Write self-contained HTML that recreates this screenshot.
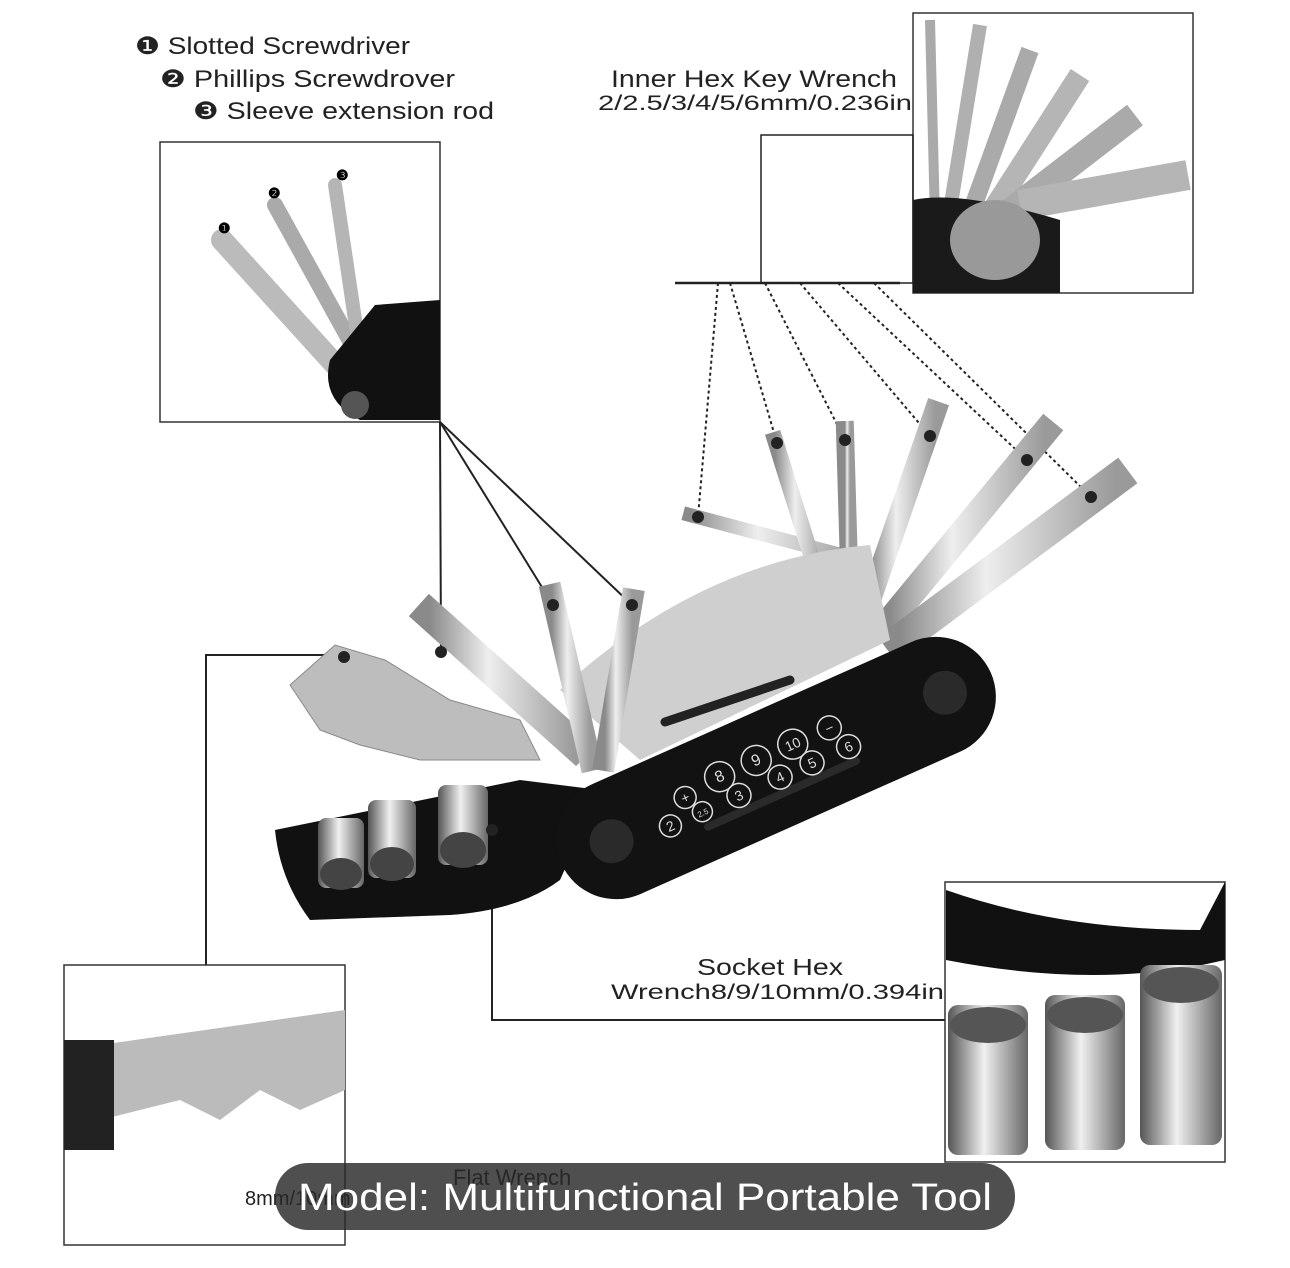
<!DOCTYPE html>
<html><head><meta charset="utf-8"><style>
html,body{margin:0;padding:0;background:#fff;}
svg{display:block}
text{font-family:"Liberation Sans",sans-serif;}
</style></head><body>
<svg width="1290" height="1268" viewBox="0 0 1290 1268" xmlns="http://www.w3.org/2000/svg">
<defs>
<linearGradient id="sil" x1="0" y1="0" x2="1" y2="0">
<stop offset="0" stop-color="#8a8a8a"/><stop offset=".4" stop-color="#eeeeee"/><stop offset="1" stop-color="#9a9a9a"/></linearGradient>
<linearGradient id="sock" x1="0" y1="0" x2="1" y2="0">
<stop offset="0" stop-color="#555"/><stop offset=".45" stop-color="#f0f0f0"/><stop offset="1" stop-color="#666"/></linearGradient>
</defs>
<rect width="1290" height="1268" fill="#fff"/>

<text x="135" y="54" font-size="24" fill="#222" textLength="275" lengthAdjust="spacingAndGlyphs">❶ Slotted Screwdriver</text>
<text x="160" y="87" font-size="24" fill="#222" textLength="295" lengthAdjust="spacingAndGlyphs">❷ Phillips  Screwdrover</text>
<text x="193" y="119" font-size="24" fill="#222" textLength="301" lengthAdjust="spacingAndGlyphs">❸ Sleeve  extension rod</text>
<text x="611" y="87" font-size="24" fill="#222" textLength="286" lengthAdjust="spacingAndGlyphs">Inner Hex Key Wrench</text>
<text x="598" y="110" font-size="21" fill="#222" textLength="314" lengthAdjust="spacingAndGlyphs">2/2.5/3/4/5/6mm/0.236in</text>

<rect x="160" y="142" width="280" height="280" fill="#fff" stroke="#333" stroke-width="1.5"/>
<g stroke-linecap="round">
<line x1="222" y1="240" x2="340" y2="370" stroke="#bbb" stroke-width="22"/>
<line x1="275" y1="205" x2="355" y2="350" stroke="#aaa" stroke-width="16"/>
<line x1="335" y1="185" x2="358" y2="340" stroke="#b5b5b5" stroke-width="14"/>
</g>
<path d="M330 360 L375 305 L440 300 L440 420 L360 420 Q320 400 330 360Z" fill="#111"/>
<circle cx="355" cy="405" r="14" fill="#555"/>
<text x="218" y="233" font-size="14" font-weight="bold">❶</text>
<text x="268" y="198" font-size="14" font-weight="bold">❷</text>
<text x="336" y="180" font-size="14" font-weight="bold">❸</text>

<rect x="913" y="13" width="280" height="280" fill="#fff" stroke="#333" stroke-width="1.5"/>
<g stroke-linecap="butt">
<line x1="930" y1="20" x2="935" y2="220" stroke="#aaa" stroke-width="10"/>
<line x1="980" y1="25" x2="950" y2="210" stroke="#b0b0b0" stroke-width="14"/>
<line x1="1030" y1="50" x2="970" y2="215" stroke="#aaa" stroke-width="18"/>
<line x1="1080" y1="75" x2="990" y2="215" stroke="#b5b5b5" stroke-width="22"/>
<line x1="1135" y1="115" x2="1005" y2="215" stroke="#aaa" stroke-width="26"/>
<line x1="1188" y1="175" x2="1020" y2="205" stroke="#b5b5b5" stroke-width="30"/>
</g>
<path d="M913 200 Q960 190 1060 220 L1060 293 L913 293Z" fill="#1a1a1a"/>
<ellipse cx="995" cy="240" rx="45" ry="40" fill="#999"/>
<rect x="761" y="135" width="152" height="148" fill="none" stroke="#222" stroke-width="1.5"/>
<line x1="675" y1="283" x2="900" y2="283" stroke="#222" stroke-width="2.5"/>

<g stroke="#222" stroke-width="2" stroke-dasharray="3,3" fill="none">
<line x1="718" y1="283" x2="698" y2="517"/>
<line x1="730" y1="283" x2="777" y2="443"/>
<line x1="765" y1="283" x2="845" y2="440"/>
<line x1="800" y1="283" x2="930" y2="436"/>
<line x1="838" y1="283" x2="1027" y2="460"/>
<line x1="874" y1="283" x2="1091" y2="497"/>
</g>

<g stroke="#222" stroke-width="2" fill="none">
<line x1="440" y1="422" x2="441" y2="652"/>
<line x1="440" y1="422" x2="553" y2="605"/>
<line x1="440" y1="422" x2="632" y2="605"/>
<polyline points="345,655 206,655 206,965"/>
<polyline points="492,832 492,1020 945,1020"/>
</g>

<g stroke-linecap="square">
<line x1="860" y1="560" x2="690" y2="515" stroke="url(#sil)" stroke-width="14"/>
<line x1="825" y1="600" x2="775" y2="440" stroke="url(#sil)" stroke-width="16"/>
<line x1="850" y1="600" x2="845" y2="430" stroke="url(#sil)" stroke-width="18"/>
<line x1="870" y1="600" x2="935" y2="412" stroke="url(#sil)" stroke-width="22"/>
<line x1="890" y1="620" x2="1045" y2="432" stroke="url(#sil)" stroke-width="26"/>
<line x1="900" y1="640" x2="1115" y2="480" stroke="url(#sil)" stroke-width="32"/>
</g>
<path d="M560 690 Q700 560 870 545 L890 640 L640 760Z" fill="#cfcfcf"/>
<line x1="665" y1="722" x2="790" y2="680" stroke="#222" stroke-width="9" stroke-linecap="round"/>
<g stroke-linecap="square">
<line x1="430" y1="615" x2="575" y2="745" stroke="url(#sil)" stroke-width="30"/>
<line x1="552" y1="595" x2="590" y2="760" stroke="url(#sil)" stroke-width="22"/>
<line x1="632" y1="600" x2="605" y2="760" stroke="url(#sil)" stroke-width="22"/>
</g>
<path d="M290 685 L335 645 L385 660 L450 700 L520 720 L540 760 L420 760 L360 745 L320 730 Z" fill="#bdbdbd" stroke="#888"/>
<circle cx="344" cy="657" r="6" fill="#222"/>
<path d="M275 830 L520 780 L600 790 L560 880 Q520 910 450 915 L310 920 Q280 880 275 830Z" fill="#111"/>
<g>
<rect x="318" y="818" width="46" height="70" rx="8" fill="url(#sock)"/>
<rect x="368" y="800" width="48" height="78" rx="8" fill="url(#sock)"/>
<rect x="438" y="785" width="50" height="80" rx="8" fill="url(#sock)"/>
<ellipse cx="341" cy="874" rx="21" ry="16" fill="#444"/>
<ellipse cx="392" cy="864" rx="22" ry="17" fill="#444"/>
<ellipse cx="463" cy="850" rx="23" ry="18" fill="#444"/>
</g>
<circle cx="492" cy="830" r="6" fill="#222"/>
<g transform="translate(776,768) rotate(-24)">
<rect x="-235" y="-60" width="470" height="120" rx="60" fill="#121212"/>
<circle cx="-180" cy="0" r="22" fill="#2a2a2a"/>
<circle cx="185" cy="0" r="22" fill="#2a2a2a"/>
<rect x="-90" y="22" width="170" height="8" rx="4" fill="#2a2a2a"/>
<g fill="none" stroke="#ddd" stroke-width="1.5" font-size="13">
<circle cx="-120" cy="10" r="11"/><circle cx="-95" cy="-10" r="11"/><circle cx="-85" cy="10" r="10"/>
<circle cx="-55" cy="-15" r="15"/><circle cx="-45" cy="10" r="12"/><circle cx="-15" cy="-15" r="15"/>
<circle cx="0" cy="10" r="12"/><circle cx="25" cy="-15" r="15"/><circle cx="35" cy="10" r="12"/>
<circle cx="65" cy="-15" r="12"/><circle cx="75" cy="10" r="12"/>
</g>
<g fill="#ddd" font-size="14" text-anchor="middle">
<text x="-120" y="15">2</text><text x="-95" y="-5">+</text><text x="-85" y="14" font-size="8">2.5</text>
<text x="-55" y="-10" font-size="16">8</text><text x="-45" y="15">3</text><text x="-15" y="-10" font-size="16">9</text>
<text x="0" y="15">4</text><text x="25" y="-10">10</text><text x="35" y="15">5</text>
<text x="65" y="-10">−</text><text x="75" y="15">6</text>
</g>
</g>
<g fill="#222">
<circle cx="441" cy="652" r="6"/><circle cx="553" cy="605" r="6"/><circle cx="632" cy="605" r="6"/>
<circle cx="698" cy="517" r="6"/><circle cx="777" cy="443" r="6"/><circle cx="845" cy="440" r="6"/>
<circle cx="930" cy="436" r="6"/><circle cx="1027" cy="460" r="6"/><circle cx="1091" cy="497" r="6"/>
</g>

<text x="697" y="975" font-size="23" fill="#222" textLength="146" lengthAdjust="spacingAndGlyphs">Socket Hex</text>
<text x="611" y="999" font-size="21" fill="#222" textLength="333" lengthAdjust="spacingAndGlyphs">Wrench8/9/10mm/0.394in</text>

<rect x="945" y="882" width="280" height="280" fill="#fff" stroke="#333" stroke-width="1.5"/>
<path d="M946 890 Q1060 930 1200 930 L1225 882 L1225 960 Q1100 990 946 960Z" fill="#111"/>
<rect x="948" y="1005" width="80" height="150" rx="10" fill="url(#sock)"/>
<rect x="1045" y="995" width="80" height="155" rx="10" fill="url(#sock)"/>
<rect x="1140" y="965" width="82" height="180" rx="10" fill="url(#sock)"/>
<ellipse cx="988" cy="1025" rx="38" ry="18" fill="#555"/>
<ellipse cx="1085" cy="1015" rx="38" ry="18" fill="#555"/>
<ellipse cx="1181" cy="985" rx="38" ry="18" fill="#555"/>

<rect x="64" y="965" width="281" height="280" fill="#fff" stroke="#333" stroke-width="1.5"/>
<path d="M100 1045 L345 1010 L345 1090 L300 1110 L260 1090 L220 1120 L180 1100 L100 1120Z" fill="#bbb"/>
<rect x="64" y="1040" width="50" height="110" fill="#222"/>
<text x="453" y="1185" font-size="22" fill="#222">Flat Wrench</text>
<text x="245" y="1205" font-size="20" fill="#222">8mm/10mm</text>

<rect x="275" y="1163" width="740" height="67" rx="33" fill="rgba(40,40,40,0.82)"/>
<text x="298" y="1210" font-size="38" fill="#fff" textLength="694" lengthAdjust="spacingAndGlyphs">Model: Multifunctional Portable Tool</text>
</svg>
</body></html>
